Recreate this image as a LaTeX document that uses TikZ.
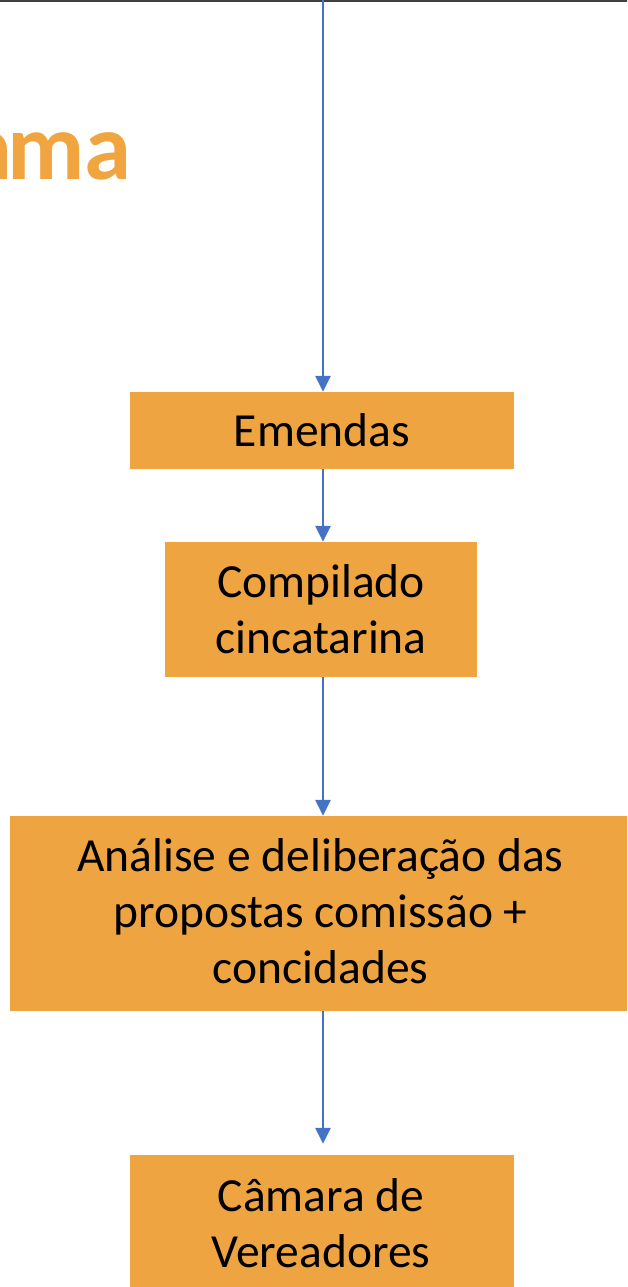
\documentclass[tikz,border=0pt]{standalone}
\usepackage{fontspec}
\setmainfont{Carlito}
\usetikzlibrary{arrows.meta}
\definecolor{boxorange}{RGB}{238,164,64}
\definecolor{titleorange}{RGB}{240,165,64}
\definecolor{arrowblue}{RGB}{68,114,196}
\definecolor{rulegray}{RGB}{64,64,64}
\tikzset{
  stepbox/.style={fill=boxorange, draw=none, inner sep=0pt, align=center,
    font=\fontsize{47.5}{56}\selectfont, text=black},
  boxtext/.style={inner sep=0pt, align=center, font=\fontsize{47.5}{56}\selectfont, text=black},
  flow/.style={draw=arrowblue, line width=2.5pt, -{Triangle[width=15pt,length=16pt]}}
}
\begin{document}
\begin{tikzpicture}[x=1pt,y=-1pt]
\useasboundingbox (0,0) rectangle (627,1287);
\clip (0,0) rectangle (627,1287);
% title fragment
\node[anchor=base east, inner sep=0pt, text=titleorange,
  font=\fontsize{95}{110}\selectfont\bfseries] (title) at (132,179) {a\kern-5pt ma};
% top rule
\draw[rulegray, line width=1.8pt] (-5,1) -- (640,1);
% boxes
\node[stepbox, minimum width=384pt, minimum height=77pt] (emendas) at (322,430.5) {Emendas};
\node[stepbox, minimum width=312pt, minimum height=135pt] (compilado) at (321,609.5) {Compilado\\cincatarina};
\node[stepbox, minimum width=630pt, minimum height=195pt] (analise) at (325,913.5) {};
\node[boxtext] (analisetext) at (320.5,911) {Análise e deliberação das\\propostas comissão +\\concidades};
\node[stepbox, minimum width=384pt, minimum height=145pt] (camara) at (322,1227.5) {};
\node[boxtext] (camaratext) at (321,1223) {Câmara de\\Vereadores};
% connectors
\coordinate (top) at (323,-2);
\draw[flow] (top) -- (top |- emendas.north);
\draw[flow] (emendas.south -| top) -- (compilado.north -| top);
\draw[flow] (compilado.south -| top) -- (analise.north -| top);
\draw[flow, shorten >=11pt] (analise.south -| top) -- (camara.north -| top);
\end{tikzpicture}
\end{document}
